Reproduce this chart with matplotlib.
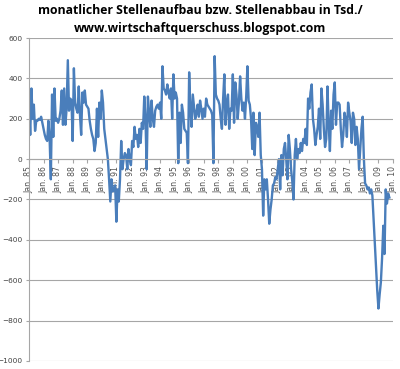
import matplotlib
matplotlib.use("Agg")
import matplotlib.pyplot as plt
import numpy as np

title = "monatlicher Stellenaufbau bzw. Stellenabbau in Tsd./\nwww.wirtschaftquerschuss.blogspot.com"

years = [str(y % 100).zfill(2) for y in range(1985, 2011)]
tick_labels = ["Jan. " + y for y in years]

v1985 = [270, 120, 350, 200, 270, 140, 190, 190, 200, 195, 210, 180]
v1986 = [150, 120, 100, 90, 190, 100, -100, 320, 110, 350, 190, 200]
v1987 = [180, 200, 240, 340, 170, 350, 170, 250, 490, 240, 300, 290]
v1988 = [90, 450, 280, 250, 230, 360, 220, 120, 330, 280, 340, 270]
v1989 = [260, 250, 190, 150, 120, 100, 40, 80, 250, 110, 280, 200]
v1990 = [340, 280, 150, 100, 50, 0, -100, -210, -100, -160, -150, -130]
v1991 = [-310, -150, -210, -100, 90, -50, 0, 30, 20, -50, 50, 0]
v1992 = [-30, 90, 60, 160, 100, 120, 60, 150, 80, 180, 150, 310]
v1993 = [200, -50, 310, 230, 160, 290, 200, 160, 240, 260, 270, 250]
v1994 = [280, 200, 460, 350, 340, 320, 370, 330, 300, 350, 200, 420]
v1995 = [300, 330, 300, -20, 230, 80, 270, 230, 150, 140, 130, -20]
v1996 = [430, 250, 160, 320, 260, 200, 230, 270, 210, 290, 250, 200]
v1997 = [250, 210, 300, 270, 260, 250, 240, 220, -20, 510, 320, 300]
v1998 = [290, 270, 200, 150, 300, 420, 170, 280, 320, 150, 250, 240]
v1999 = [420, 180, 380, 320, 200, 280, 410, 300, 240, 280, 200, 310]
v2000 = [460, 290, 270, 200, 50, 230, 20, 180, 160, 110, 230, 20]
v2001 = [-50, -280, -100, -150, -100, -200, -320, -250, -200, -130, -120, -90]
v2002 = [-100, -50, 0, -150, 20, -80, 50, 80, 0, -100, 120, 50]
v2003 = [-50, -110, -200, 20, 100, 0, 50, 30, 80, 40, 100, 80]
v2004 = [150, 70, 300, 250, 330, 370, 200, 150, 70, 120, 160, 250]
v2005 = [100, 350, 270, 150, 60, 100, 360, 170, 40, 240, 150, 320]
v2006 = [380, 170, 280, 280, 270, 150, 60, 120, 230, 200, 110, 280]
v2007 = [230, 190, 80, 230, 200, 70, 160, 100, -50, 50, 150, 210]
v2008 = [0, -120, -130, -150, -140, -170, -150, -180, -300, -420, -530, -650]
v2009 = [-740, -670, -610, -490, -330, -470, -150, -220, -170, -190]

values = (v1985 + v1986 + v1987 + v1988 + v1989 + v1990 + v1991 + v1992 + v1993 +
          v1994 + v1995 + v1996 + v1997 + v1998 + v1999 + v2000 + v2001 + v2002 +
          v2003 + v2004 + v2005 + v2006 + v2007 + v2008 + v2009)
x = np.arange(len(values))

fig = plt.figure(figsize=(4.0, 3.69), dpi=100)
ax = fig.add_axes([0.0725, 0.0217, 0.91, 0.8753])

ax.spines["bottom"].set_position(("data", 0))
ax.spines["bottom"].set_color("#A6A6A6")
ax.spines["left"].set_color("#A6A6A6")
ax.spines["top"].set_visible(False)
ax.spines["right"].set_visible(False)

ax.plot(x, values, color="#4A7EBB", lw=1.7, solid_joinstyle="round")

ax.set_ylim(-1000, 600)
ax.set_xlim(0, 300)
ax.set_yticks(np.arange(-1000, 601, 200))
ax.yaxis.grid(True, color="#A6A6A6", lw=0.8)
ax.set_axisbelow(True)
ax.tick_params(axis="y", labelsize=5.3, labelcolor="#404040", length=2.5, color="#A6A6A6", width=0.8, pad=2)

ax.set_xticks(np.arange(0, 301, 12))
ax.tick_params(axis="x", length=3, color="#A6A6A6", width=0.8, pad=2)
ax.set_xticklabels(tick_labels, rotation=90, fontsize=5.6, color="#505050",
                   va="top", ha="center")

fig.text(0.5, 0.99, title, ha="center", va="top", fontsize=8.8, fontweight="bold",
         family=["Open Sans", "DejaVu Sans"], linespacing=1.5)

fig.savefig("out.png", dpi=100)
